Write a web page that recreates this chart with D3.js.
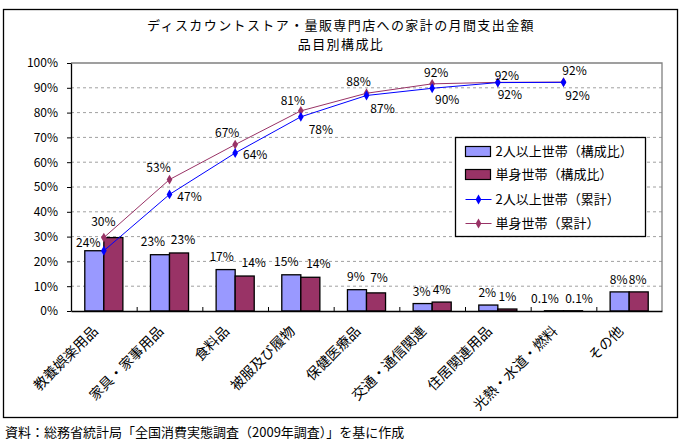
<!DOCTYPE html>
<html><head><meta charset="utf-8">
<script src="https://cdn.jsdelivr.net/npm/d3@7"></script>
<style>
body{margin:0;background:#fff}
svg{display:block}
text{font-family:"Noto Sans CJK JP","Noto Sans",sans-serif;fill:#000}
</style>
</head><body>
<svg id="chart" width="681" height="442"></svg>
<script>
// ---- data ----
const categories = ["教養娯楽用品","家具・家事用品","食料品","被服及び履物","保健医療品","交通・通信関連","住居関連用品","光熱・水道・燃料","その他"];
const seriesNames = ["2人以上世帯（構成比）","単身世帯（構成比）","2人以上世帯（累計）","単身世帯（累計）"];
const multiShare  = [24.3, 22.7, 16.7, 14.6, 8.6, 3.0, 2.4, 0.1, 7.7];
const singleShare = [29.6, 23.4, 14.1, 13.6, 7.3, 3.6, 0.8, 0.1, 7.7];
const multiCum    = [24.3, 47.0, 63.7, 78.3, 86.9, 89.8, 92.1, 92.2];
const singleCum   = [29.6, 53.0, 67.1, 80.7, 87.8, 91.6, 92.2, 92.3];
const yTicks = [0,10,20,30,40,50,60,70,80,90,100];
const titleLines = ["ディスカウントストア・量販専門店への家計の月間支出金額","品目別構成比"];
const sourceNote = "資料：総務省統計局「全国消費実態調査（2009年調査）」を基に作成";

// ---- styling / label nudges ----
const C = {blueBar:"#9999FF", redBar:"#993366", blueLine:"#0000FF", redLine:"#993366"};
const barLblBlue = {dx:[-6,-7,-4,-5,-1,-1,-1,-9,-1], dy:[-8,-13,-13,-13,-13,-12,-12,-12,-12]};
const barLblRed  = {dx:[-10,4,9,8,3,0,0,6,-1], dy:[-16,-13,-13,-13,-15,-12,-12,-12,-12]};
const cumLblBlue = {dx:[0,20,20,20,16,15,12,14], dy:[0,2,2,13,13,12,12,13]};
const cumLblRed  = {dx:[0,-11,-8,-8,-8,4,9,11], dy:[0,-12,-12,-10,-11,-11,-7,-11]};

const svg = d3.select("#chart");
const M = {left:71, right:662, top:63, bottom:311};

// outer frame
svg.append("rect").attr("x",3.5).attr("y",9.5).attr("width",674).attr("height",408)
  .attr("fill","#fff").attr("stroke","#000").attr("stroke-width",1.3);

// title
svg.append("g").selectAll("text").data(titleLines).join("text")
  .attr("x",341).attr("y",(d,i)=>29.5+i*19).attr("text-anchor","middle")
  .attr("font-size",13).attr("letter-spacing",1.4).text(d=>d);

const x = d3.scaleBand().domain(categories).range([M.left,M.right]).paddingInner(0).paddingOuter(0);
const bw = x.bandwidth();
const x1 = d3.scaleBand().domain(["multi","single"]).range([bw*0.21,bw*0.79]);
const y = d3.scaleLinear().domain([0,100]).range([M.bottom,M.top]);
const xi = d3.scaleLinear().domain([0,categories.length]).range([M.left,M.right]);

// grid
svg.append("g").selectAll("line").data(yTicks.filter(t=>t>0&&t<100)).join("line")
  .attr("x1",M.left).attr("x2",M.right).attr("y1",d=>y(d)).attr("y2",d=>y(d))
  .attr("stroke","#a0a0a0").attr("stroke-dasharray","3,3").attr("stroke-width",1);
// top & right plot border
svg.append("path").attr("d",`M${M.left},${y(100)}H${M.right}V${M.bottom}`)
  .attr("fill","none").attr("stroke","#808080").attr("stroke-width",1.3);

// y axis
const yAxis = svg.append("g").attr("transform",`translate(${M.left},0)`)
  .call(d3.axisLeft(y).tickValues(yTicks).tickFormat(d=>d+"%").tickSizeInner(4).tickSizeOuter(0).tickPadding(9));
yAxis.select(".domain").attr("stroke","#000").attr("stroke-width",1.3);
yAxis.selectAll(".tick line").attr("stroke","#000");
yAxis.selectAll(".tick text").attr("font-size",12).attr("font-family","'Noto Sans CJK JP',sans-serif");

// bars
const gBars = svg.append("g");
[["multi",multiShare,C.blueBar],["single",singleShare,C.redBar]].forEach(([k,arr,col])=>{
  gBars.selectAll(null).data(arr).join("rect")
    .attr("x",(d,i)=>x(categories[i])+x1(k)).attr("width",x1.bandwidth())
    .attr("y",d=>y(d)).attr("height",d=>y(0)-y(d))
    .attr("fill",col).attr("stroke","#000").attr("stroke-width",1.3);
});

// x axis
const xAxis = svg.append("g").attr("transform",`translate(0,${M.bottom})`)
  .call(d3.axisBottom(xi).tickValues(d3.range(1,categories.length)).tickSizeInner(-4).tickSizeOuter(0).tickFormat(""));
xAxis.select(".domain").attr("stroke","#000").attr("stroke-width",1.3);
xAxis.selectAll(".tick line").attr("stroke","#000");

// category labels
svg.append("g").selectAll("text").data(categories).join("text")
  .attr("transform",d=>`translate(${x(d)+bw/2-5},${332}) rotate(-45)`)
  .attr("text-anchor","end").attr("font-size",14).text(d=>d);

// lines
const cx = i => x(categories[i])+bw/2;
const line = d3.line().x((d,i)=>cx(i)).y(d=>y(d));
const diamond = d3.symbol().type(d3.symbolDiamond).size(28);
[[singleCum,C.redLine],[multiCum,C.blueLine]].forEach(([arr,col])=>{
  svg.append("path").datum(arr).attr("d",line).attr("fill","none").attr("stroke",col).attr("stroke-width",1);
  svg.append("g").selectAll("path").data(arr).join("path")
    .attr("transform",(d,i)=>`translate(${cx(i)},${y(d)})`).attr("d",diamond).attr("fill",col);
});

// labels
const fmt = v => (v<0.5 ? d3.format(".1f")(v) : d3.format(".0f")(v))+"%";
const gL = svg.append("g");
function lbls(arr, xs, nud, skipFirst){
  const data = arr.map((v,i)=>({v,i})).filter(d=>!(skipFirst&&d.i===0));
  gL.selectAll(null).data(data).join("text")
    .attr("x",d=>xs(d.i)+nud.dx[d.i]).attr("y",d=>y(d.v)+nud.dy[d.i])
    .attr("dy","0.35em").attr("text-anchor","middle").attr("font-size",12).text(d=>fmt(d.v));
}
lbls(multiShare, i=>x(categories[i])+x1("multi")+x1.bandwidth()/2, barLblBlue, false);
lbls(singleShare, i=>x(categories[i])+x1("single")+x1.bandwidth()/2, barLblRed, false);
lbls(multiCum, cx, cumLblBlue, true);
lbls(singleCum, cx, cumLblRed, true);

// legend
const lg = svg.append("g").attr("transform","translate(455.5,137.5)");
lg.append("rect").attr("width",190).attr("height",99).attr("fill","#fff").attr("stroke","#000").attr("stroke-width",1.3);
const rowsY = [14,37,62,86];
seriesNames.forEach((name,i)=>{
  const g = lg.append("g").attr("transform",`translate(0,${rowsY[i]})`);
  if(i<2){
    g.append("rect").attr("x",10).attr("y",-5).attr("width",25).attr("height",10)
      .attr("fill",i===0?C.blueBar:C.redBar).attr("stroke","#000").attr("stroke-width",1.2);
  } else {
    const col = i===2?C.blueLine:C.redLine;
    g.append("line").attr("x1",10).attr("x2",36).attr("stroke",col).attr("stroke-width",1);
    g.append("path").attr("transform","translate(23,0)").attr("d",diamond).attr("fill",col);
  }
  g.append("text").attr("x",40).attr("dy","0.38em").attr("font-size",13).text(name);
});

// source
svg.append("text").attr("x",5).attr("y",437).attr("font-size",13).text(sourceNote);
</script>
</body></html>
